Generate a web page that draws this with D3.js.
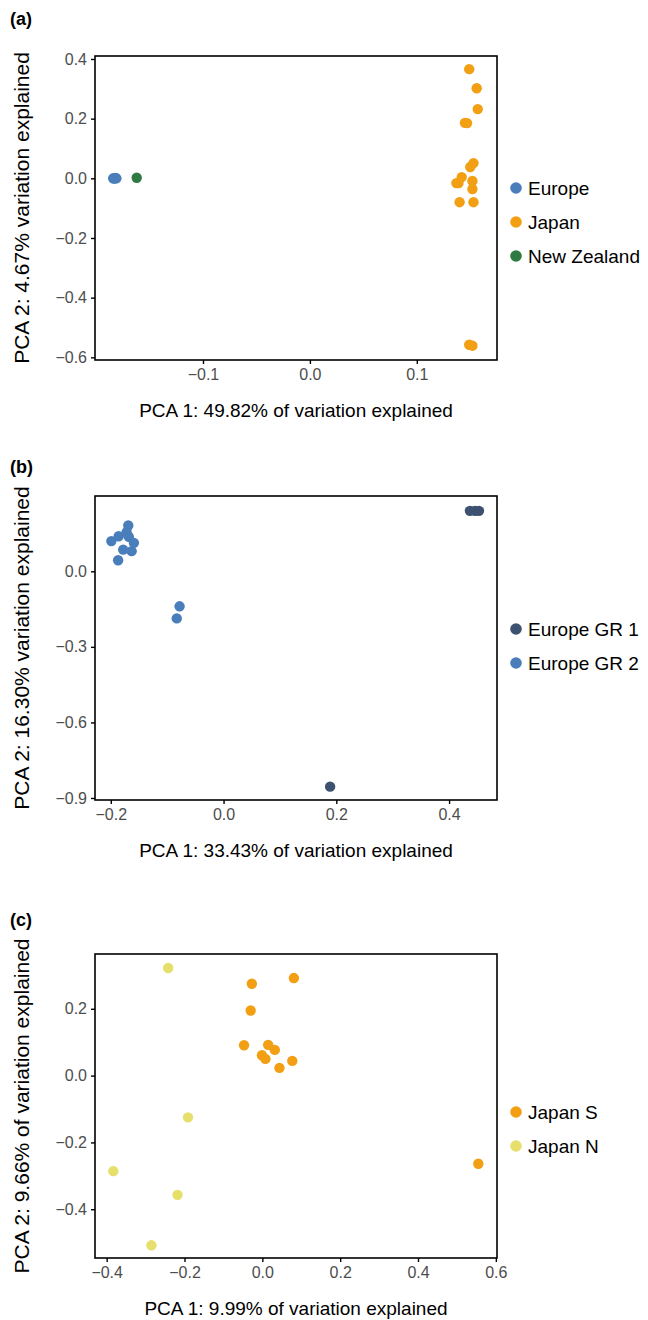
<!DOCTYPE html>
<html>
<head>
<meta charset="utf-8">
<script src="https://cdn.jsdelivr.net/npm/d3@7"></script>
<style>
  body { margin: 0; background: #fff; }
  svg { font-family: "Liberation Sans", Arial, sans-serif; }
  .tick text { fill: #4d4d4d; font-size: 16px; }
  .tick line { stroke: #000; }
  .domain { display: none; }
</style>
</head>
<body>
<svg width="648" height="1320"></svg>
<script>
// ---- data ----
// panel (a)
var europeA   = [[-0.184, 0.000], [-0.182, 0.001], [-0.181, 0.000], [-0.183, -0.001]];
var japanA    = [[0.149, 0.366], [0.156, 0.302], [0.157, 0.232], [0.147, 0.185], [0.145, 0.186],
                 [0.153, 0.051], [0.150, 0.038], [0.142, 0.004], [0.139, -0.016], [0.137, -0.016],
                 [0.152, -0.009], [0.152, -0.036], [0.140, -0.080], [0.153, -0.080],
                 [0.149, -0.558], [0.152, -0.561]];
var nzA       = [[-0.162, 0.002]];
var xTicksA   = [-0.1, 0.0, 0.1];
var yTicksA   = [0.4, 0.2, 0.0, -0.2, -0.4, -0.6];

// panel (b)
var europeGR1 = [[0.437, 0.240], [0.446, 0.240], [0.453, 0.240], [0.189, -0.855]];
var europeGR2 = [[-0.169, 0.182], [-0.186, 0.139], [-0.199, 0.120], [-0.159, 0.113], [-0.168, 0.137],
                 [-0.172, 0.155], [-0.178, 0.086], [-0.163, 0.080], [-0.187, 0.044],
                 [-0.078, -0.139], [-0.083, -0.187]];
var xTicksB   = [-0.2, 0.0, 0.2, 0.4];
var yTicksB   = [0.0, -0.3, -0.6, -0.9];

// panel (c)
var japanS    = [[-0.027, 0.275], [0.081, 0.292], [-0.030, 0.195], [-0.047, 0.091], [0.015, 0.092],
                 [0.032, 0.077], [-0.001, 0.061], [0.008, 0.050], [0.044, 0.023], [0.077, 0.044],
                 [0.555, -0.264]];
var japanN    = [[-0.242, 0.322], [-0.191, -0.125], [-0.218, -0.357], [-0.285, -0.508], [-0.383, -0.286]];
var xTicksC   = [-0.4, -0.2, 0.0, 0.2, 0.4, 0.6];
var yTicksC   = [0.2, 0.0, -0.2, -0.4];

var svg = d3.select("svg");
var fmt = d3.format(".1f");

var left = 95, right = 497, boxH = 304;

var panels = [
    {
        tag: "(a)", top: 56, labelY: 18,
        xDomain: [-0.201, 0.175], yDomain: [-0.609, 0.410],
        xTicks: xTicksA, yTicks: yTicksA,
        xTitle: "PCA 1: 49.82% of variation explained",
        yTitle: "PCA 2: 4.67% variation explained",
        series: [
            { name: "Europe", color: "#4a7ebb", pts: europeA },
            { name: "Japan", color: "#f29f13", pts: japanA },
            { name: "New Zealand", color: "#2f7a43", pts: nzA }
        ],
        legendY: 188
    },
    {
        tag: "(b)", top: 496, labelY: 466,
        xDomain: [-0.228, 0.485], yDomain: [-0.908, 0.299],
        xTicks: xTicksB, yTicks: yTicksB,
        xTitle: "PCA 1: 33.43% of variation explained",
        yTitle: "PCA 2: 16.30% variation explained",
        series: [
            { name: "Europe GR 1", color: "#3c5270", pts: europeGR1 },
            { name: "Europe GR 2", color: "#4a7ebb", pts: europeGR2 }
        ],
        legendY: 629
    },
    {
        tag: "(c)", top: 954, labelY: 919,
        xDomain: [-0.430, 0.603], yDomain: [-0.546, 0.364],
        xTicks: xTicksC, yTicks: yTicksC,
        xTitle: "PCA 1: 9.99% of variation explained",
        yTitle: "PCA 2: 9.66% of variation explained",
        series: [
            { name: "Japan S", color: "#f29f13", pts: japanS },
            { name: "Japan N", color: "#e6df6b", pts: japanN }
        ],
        legendY: 1112
    }
];

panels.forEach(function (p) {
    var bottom = p.top + boxH;
    var x = d3.scaleLinear().domain(p.xDomain).range([left, right]);
    var y = d3.scaleLinear().domain(p.yDomain).range([bottom, p.top]);

    svg.append("text")
        .attr("x", 10).attr("y", p.labelY + 7)
        .attr("font-size", 18).attr("font-weight", "bold")
        .text(p.tag);

    svg.append("g")
        .attr("transform", `translate(0,${bottom})`)
        .call(d3.axisBottom(x).tickValues(p.xTicks).tickFormat(fmt).tickSize(4).tickPadding(5))
        .selectAll(".tick line").attr("stroke-width", 1.4);

    svg.append("g")
        .attr("transform", `translate(${left},0)`)
        .call(d3.axisLeft(y).tickValues(p.yTicks).tickFormat(fmt).tickSize(4).tickPadding(4))
        .selectAll(".tick line").attr("stroke-width", 1.4);

    p.series.forEach(function (s) {
        svg.append("g").selectAll("circle")
            .data(s.pts)
            .enter().append("circle")
            .attr("cx", function (d) { return x(d[0]); })
            .attr("cy", function (d) { return y(d[1]); })
            .attr("r", 5.2)
            .attr("fill", s.color);
    });

    svg.append("rect")
        .attr("x", left).attr("y", p.top)
        .attr("width", right - left).attr("height", boxH)
        .attr("fill", "none").attr("stroke", "#000").attr("stroke-width", 1.6);

    svg.append("text")
        .attr("x", (left + right) / 2).attr("y", bottom + 57)
        .attr("text-anchor", "middle").attr("font-size", 19)
        .text(p.xTitle);

    svg.append("text")
        .attr("transform", `translate(29,${p.top + boxH / 2}) rotate(-90)`)
        .attr("text-anchor", "middle").attr("font-size", 21)
        .text(p.yTitle);

    var legend = svg.append("g").attr("transform", `translate(516,${p.legendY})`);
    p.series.forEach(function (s, i) {
        legend.append("circle")
            .attr("cx", 0).attr("cy", i * 34).attr("r", 5.8)
            .attr("fill", s.color);
        legend.append("text")
            .attr("x", 12).attr("y", i * 34).attr("dy", "0.35em")
            .attr("font-size", 19)
            .text(s.name);
    });
});
</script>
</body>
</html>
